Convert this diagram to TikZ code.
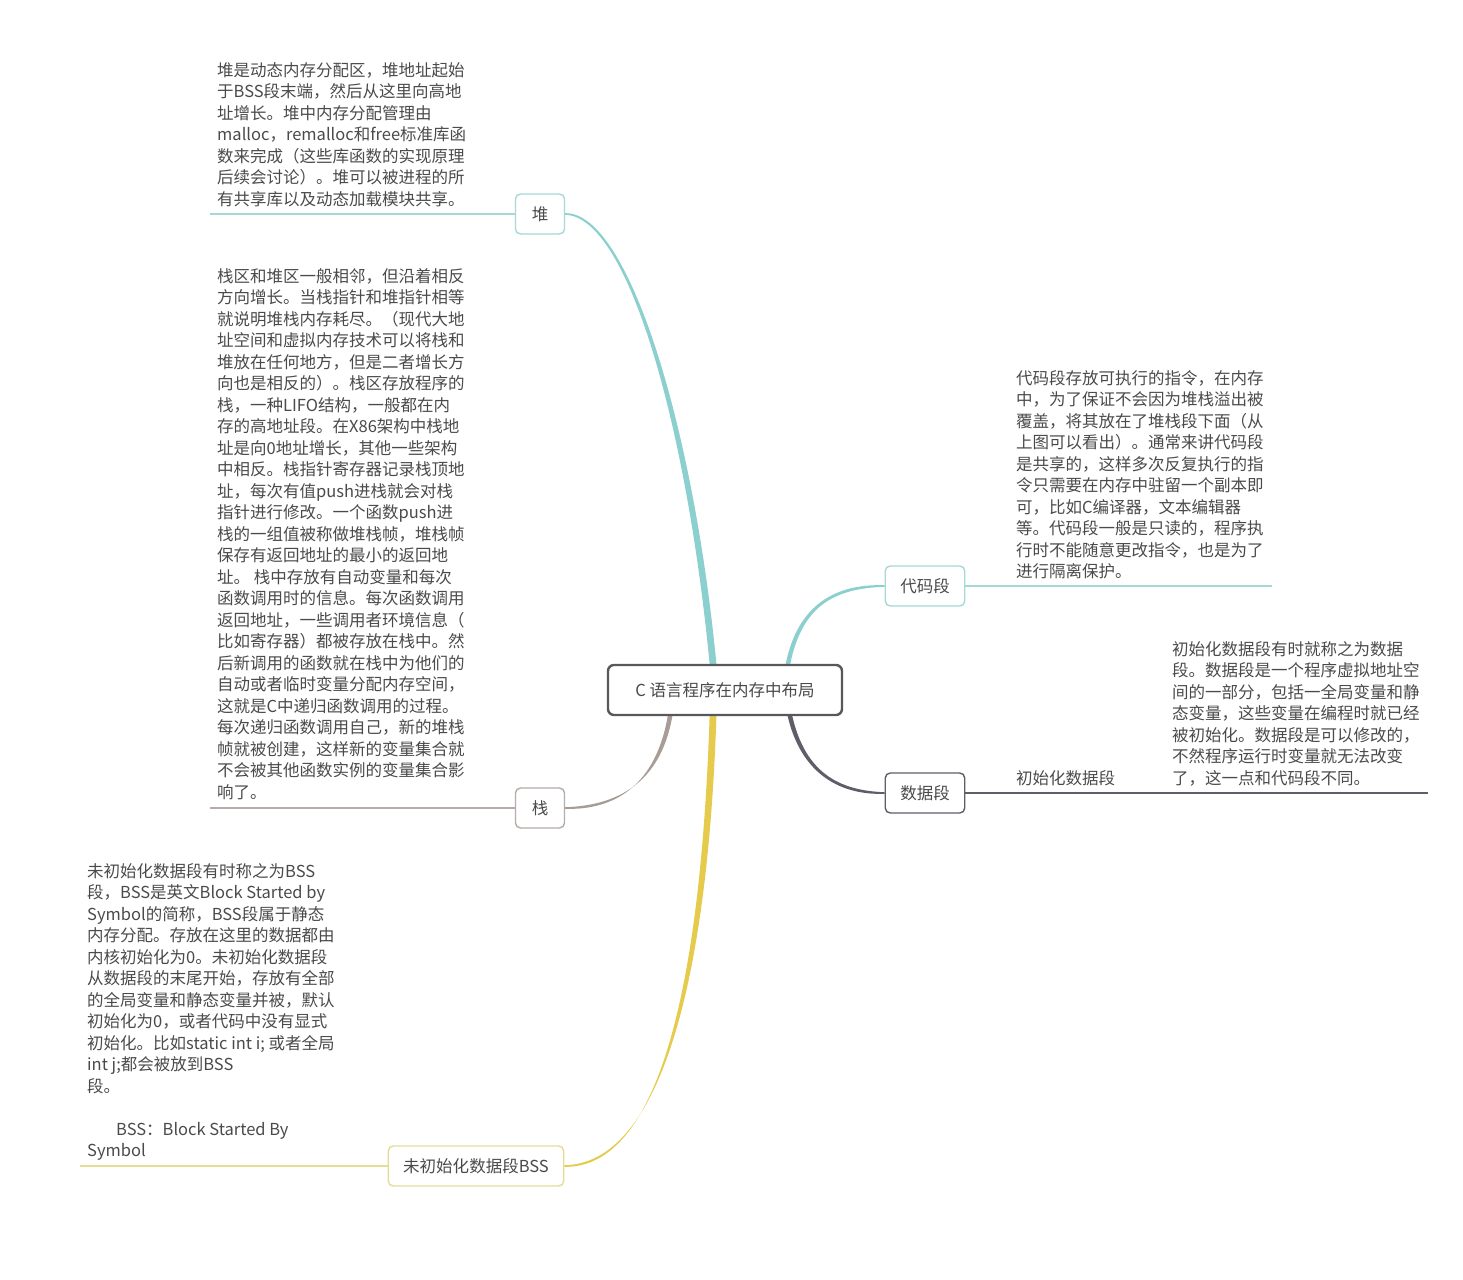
\documentclass[tikz,border=0pt]{standalone}
\usepackage{fontspec}
\setmainfont{Noto Sans CJK SC}
\usetikzlibrary{calc,backgrounds}
\definecolor{txt}{HTML}{4A4A4A}
\definecolor{cteal}{HTML}{8CCFCF}
\definecolor{ctealb}{HTML}{A6D8D8}
\definecolor{cbrown}{HTML}{A89C96}
\definecolor{cbrownb}{HTML}{B4ACA8}
\definecolor{cdark}{HTML}{5E5E68}
\definecolor{cyel}{HTML}{E5CA4C}
\definecolor{cyelb}{HTML}{E6DC98}
\definecolor{rootc}{HTML}{58585C}
\newcommand\mybranch[7]{\fill[#1] ($(#2)+(-#6,0)$) .. controls ($(#3)+(-#6,0)$) and ($(#4)+(0,3*#7)$) .. ($(#5)+(0,#7)$) -- ($(#5)-(0,#7)$) .. controls ($(#4)-(0,3*#7)$) and ($(#3)+(#6,0)$) .. ($(#2)+(#6,0)$) -- cycle;}
\begin{document}
\begin{tikzpicture}[x=1pt,y=-1pt,
  every node/.style={text=txt, font=\fontsize{16.5}{21.5}\selectfont},
  topic/.style={draw, fill=white, rounded corners=5pt, line width=1.4pt, minimum height=40pt, minimum width=49pt, inner xsep=15pt, inner ysep=0pt},
  note/.style={align=left, anchor=north west, inner sep=0pt},
  uline/.style={line width=1.4pt}]
\useasboundingbox (0,0) rectangle (1463,1279);
% root and topics
\node[draw=rootc, fill=white, rounded corners=6pt, line width=2.4pt, minimum width=234pt, minimum height=50pt, inner sep=0pt] (root) at (725,690) {C 语言程序在内存中布局};
\node[topic, draw=ctealb] (dui) at (540,214) {堆};
\node[topic, draw=cbrownb] (zhan) at (540,808) {栈};
\node[topic, draw=cyelb] (bss) at (476,1166) {未初始化数据段BSS};
\node[topic, draw=ctealb] (code) at (925,586) {代码段};
\node[topic, draw=cdark] (data) at (925,793) {数据段};
% branch coordinates
\coordinate (s1) at ($(root.north)+(-12,0)$);
\coordinate (a1) at (690,425); \coordinate (b1) at (628,214);
\coordinate (s2) at ($(root.south)+(-55,0)$);
\coordinate (a2) at (658,785); \coordinate (b2) at (615,808);
\coordinate (s3) at ($(root.south)+(-12,0)$);
\coordinate (a3) at (704,990); \coordinate (b3) at (658,1166);
\coordinate (s4) at ($(root.north)+(63,0)$);
\coordinate (a4) at (800,605); \coordinate (b4) at (835,586);
\coordinate (s5) at ($(root.south)+(65,0)$);
\coordinate (a5) at (803,772); \coordinate (b5) at (838,793);
\begin{scope}[on background layer]
\mybranch{cteal}{s1}{a1}{b1}{dui.east}{3.4}{0.8}
\mybranch{cbrown}{s2}{a2}{b2}{zhan.east}{2.3}{0.8}
\mybranch{cyel}{s3}{a3}{b3}{bss.east}{3.4}{0.8}
\mybranch{cteal}{s4}{a4}{b4}{code.west}{2.3}{-0.8}
\mybranch{cdark}{s5}{a5}{b5}{data.west}{2.3}{0.8}
\end{scope}
% underlines
\coordinate (duiL) at (210,214);
\coordinate (zhanL) at (210,808);
\coordinate (bssL) at (80,1166);
\coordinate (codeR) at (1272,586);
\coordinate (dataR) at (1428,793);
\draw[uline, ctealb] (dui.west) -- (duiL);
\draw[uline, cbrownb] (zhan.west) -- (zhanL);
\draw[uline, cyelb] (bss.west) -- (bssL);
\draw[uline, ctealb] (code.east) -- (codeR);
\draw[uline, cdark] (data.east) -- (dataR);
% notes
\node[note] (duitxt) at (217,62) {堆是动态内存分配区，堆地址起始\\于BSS段末端，然后从这里向高地\\址增长。堆中内存分配管理由\\malloc，remalloc和free标准库函\\数来完成（这些库函数的实现原理\\后续会讨论）。堆可以被进程的所\\有共享库以及动态加载模块共享。};
\node[note] (zhantxt) at (217,268) {栈区和堆区一般相邻，但沿着相反\\方向增长。当栈指针和堆指针相等\\就说明堆栈内存耗尽。（现代大地\\址空间和虚拟内存技术可以将栈和\\堆放在任何地方，但是二者增长方\\向也是相反的）。栈区存放程序的\\栈，一种LIFO结构，一般都在内\\存的高地址段。在X86架构中栈地\\址是向0地址增长，其他一些架构\\中相反。栈指针寄存器记录栈顶地\\址，每次有值push进栈就会对栈\\指针进行修改。一个函数push进\\栈的一组值被称做堆栈帧，堆栈帧\\保存有返回地址的最小的返回地\\址。 栈中存放有自动变量和每次\\函数调用时的信息。每次函数调用\\返回地址，一些调用者环境信息（\\比如寄存器）都被存放在栈中。然\\后新调用的函数就在栈中为他们的\\自动或者临时变量分配内存空间，\\这就是C中递归函数调用的过程。\\每次递归函数调用自己，新的堆栈\\帧就被创建，这样新的变量集合就\\不会被其他函数实例的变量集合影\\响了。};
\node[note] (bsstxt) at (87,863) {未初始化数据段有时称之为BSS\\段，BSS是英文Block Started by\\Symbol的简称，BSS段属于静态\\内存分配。存放在这里的数据都由\\内核初始化为0。未初始化数据段\\从数据段的末尾开始，存放有全部\\的全局变量和静态变量并被，默认\\初始化为0，或者代码中没有显式\\初始化。比如static int i; 或者全局\\int j;都会被放到BSS\\段。\\[21.5pt]\hspace*{29pt}BSS：Block Started By\\Symbol};
\node[note] (codetxt) at (1016,370) {代码段存放可执行的指令，在内存\\中，为了保证不会因为堆栈溢出被\\覆盖，将其放在了堆栈段下面（从\\上图可以看出）。通常来讲代码段\\是共享的，这样多次反复执行的指\\令只需要在内存中驻留一个副本即\\可，比如C编译器，文本编辑器\\等。代码段一般是只读的，程序执\\行时不能随意更改指令，也是为了\\进行隔离保护。};
\node[note] (datalabel) at (1016,770) {初始化数据段};
\node[note] (datatxt) at (1172,641) {初始化数据段有时就称之为数据\\段。数据段是一个程序虚拟地址空\\间的一部分，包括一全局变量和静\\态变量，这些变量在编程时就已经\\被初始化。数据段是可以修改的，\\不然程序运行时变量就无法改变\\了，这一点和代码段不同。};
\end{tikzpicture}
\end{document}
